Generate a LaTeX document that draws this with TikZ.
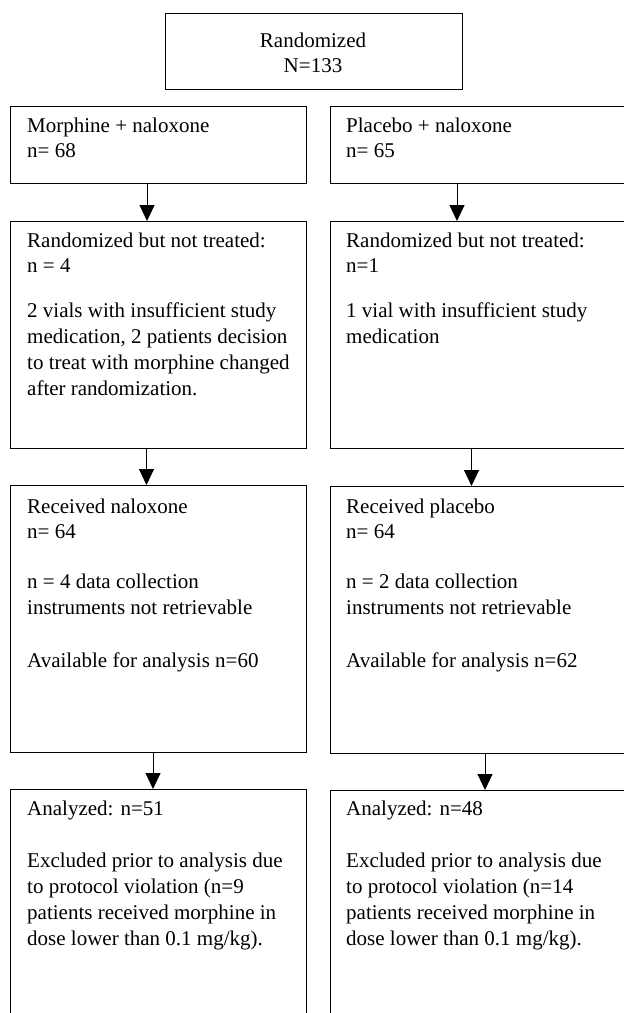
\documentclass[tikz,border=0pt]{standalone}
\usepackage{fontspec}
\setmainfont{Liberation Serif}
\usetikzlibrary{arrows.meta}
\begin{document}
\begin{tikzpicture}[x=1pt,y=-1pt,
  box/.style={draw, line width=1.1pt, inner sep=0pt, anchor=north west},
  txt/.style={inner sep=0pt, font=\fontsize{21}{25.8}\selectfont, anchor=base west},
  arr/.style={line width=1pt, -{Triangle[length=16pt,width=15pt]}}]
\useasboundingbox (0,0) rectangle (624,1013);
% boxes
\node[box, minimum width=297pt, minimum height=76pt] (top) at (165,13) {};
\node[box, minimum width=296pt, minimum height=77pt] (L2) at (10,106) {};
\node[box, minimum width=300pt, minimum height=77pt] (R2) at (330,106) {};
\node[box, minimum width=296pt, minimum height=227pt] (L3) at (10,221) {};
\node[box, minimum width=300pt, minimum height=227pt] (R3) at (330,221) {};
\node[box, minimum width=296pt, minimum height=267pt] (L4) at (10,485) {};
\node[box, minimum width=300pt, minimum height=267pt] (R4) at (330,486) {};
\node[box, minimum width=296pt, minimum height=250pt] (L5) at (10,789) {};
\node[box, minimum width=300pt, minimum height=250pt] (R5) at (330,790) {};
% texts
\node[txt, anchor=base] (tTop) at (313,47) {\begin{tabular}[t]{@{}c@{}}Randomized\\ N=133\end{tabular}};
\node[txt] (tL2) at (27,132) {\begin{tabular}[t]{@{}l@{}}Morphine + naloxone\\ n= 68\end{tabular}};
\node[txt] (tR2) at (346,132) {\begin{tabular}[t]{@{}l@{}}Placebo + naloxone\\ n= 65\end{tabular}};
\node[txt] (tL3) at (27,247) {\begin{tabular}[t]{@{}l@{}}Randomized but not treated:\\ n = 4\\[19pt] 2 vials with insufficient study\\ medication, 2 patients decision\\ to treat with morphine changed\\ after randomization.\end{tabular}};
\node[txt] (tR3) at (346,247) {\begin{tabular}[t]{@{}l@{}}Randomized but not treated:\\ n=1\\[19pt] 1 vial with insufficient study\\ medication\end{tabular}};
\node[txt] (tL4) at (27,513) {\begin{tabular}[t]{@{}l@{}}Received naloxone\\ n= 64\\[24pt] n = 4 data collection\\ instruments not retrievable\\[27pt] Available for analysis n=60\end{tabular}};
\node[txt] (tR4) at (346,513) {\begin{tabular}[t]{@{}l@{}}Received placebo\\ n= 64\\[24pt] n = 2 data collection\\ instruments not retrievable\\[27pt] Available for analysis n=62\end{tabular}};
\node[txt] (tL5) at (27,815) {\begin{tabular}[t]{@{}l@{}}Analyzed: n=51\\[27pt] Excluded prior to analysis due\\ to protocol violation (n=9\\ patients received morphine in\\ dose lower than 0.1 mg/kg).\end{tabular}};
\node[txt] (tR5) at (346,815) {\begin{tabular}[t]{@{}l@{}}Analyzed: n=48\\[27pt] Excluded prior to analysis due\\ to protocol violation (n=14\\ patients received morphine in\\ dose lower than 0.1 mg/kg).\end{tabular}};
% arrows
\draw[arr] ([xshift=137pt]L2.south west) -- ([xshift=137pt]L3.north west);
\draw[arr] ([xshift=127pt]R2.south west) -- ([xshift=127pt]R3.north west);
\draw[arr] ([xshift=136.5pt]L3.south west) -- ([xshift=136.5pt]L4.north west);
\draw[arr] ([xshift=141.5pt]R3.south west) -- ([xshift=141.5pt]R4.north west);
\draw[arr] ([xshift=143pt]L4.south west) -- ([xshift=143pt]L5.north west);
\draw[arr] ([xshift=155pt]R4.south west) -- ([xshift=155pt]R5.north west);
\end{tikzpicture}
\end{document}
